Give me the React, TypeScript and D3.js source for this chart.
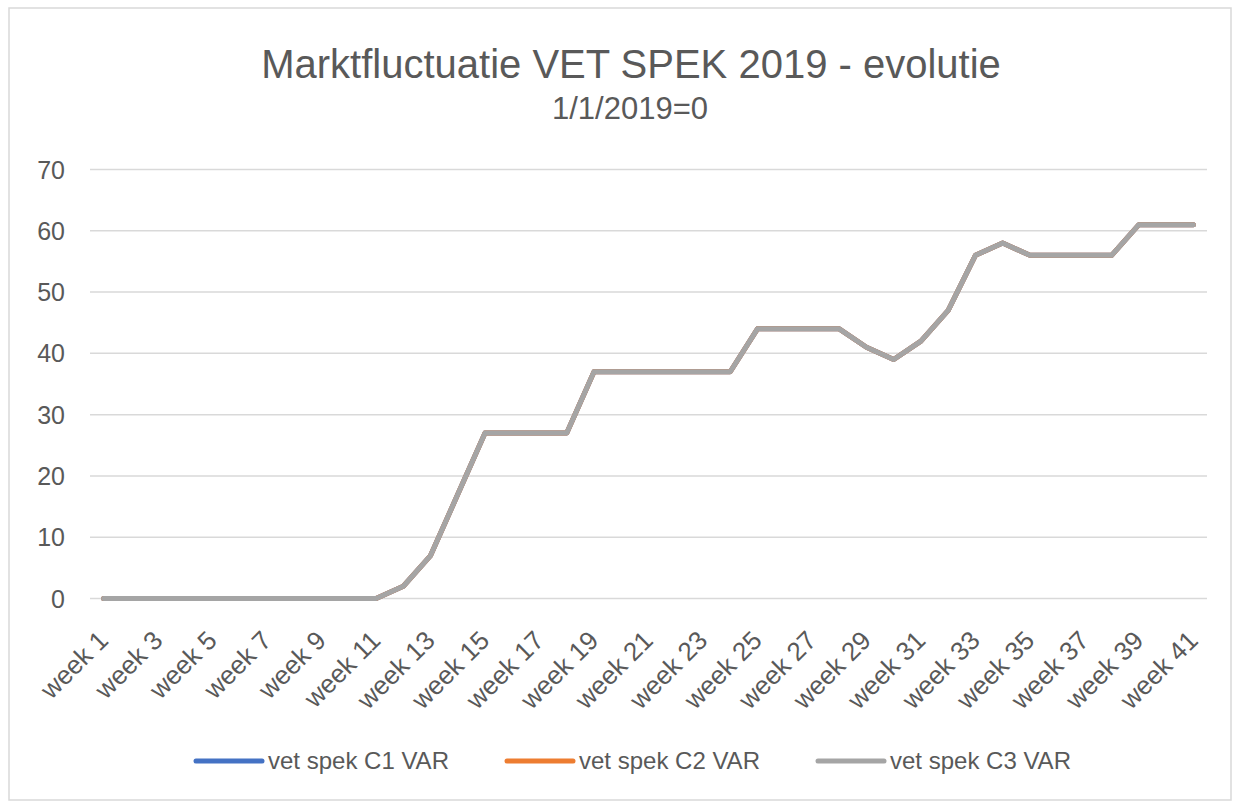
import React from "react";
import * as d3 from "d3";

const weeks: string[] = Array.from({ length: 41 }, (_, i) => `week ${i + 1}`);
const c3Values: number[] = [
  0, 0, 0, 0, 0, 0, 0, 0, 0, 0, 0, 2, 7, 17, 27, 27, 27, 27, 37, 37, 37, 37, 37, 37,
  44, 44, 44, 44, 41, 39, 42, 47, 56, 58, 56, 56, 56, 56, 61, 61, 61,
];
const c1Values: number[] = c3Values.slice();
const c2Values: number[] = c3Values.slice();
const seriesNames = ["vet spek C1 VAR", "vet spek C2 VAR", "vet spek C3 VAR"];
const seriesColors = ["#4472c4", "#ed7d31", "#a5a5a5"];
const yTicks = [0, 10, 20, 30, 40, 50, 60, 70];

const W = 1234;
const H = 802;
const FONT = "'Liberation Sans', Arial, sans-serif";

export default function App() {
  const x = d3.scaleBand<string>().domain(weeks).range([90, 1207]);
  const cx = (w: string) => (x(w) as number) + x.bandwidth() / 2;
  const y = d3.scaleLinear().domain([0, 70]).range([598.5, 169.5]);
  const line = d3
    .line<number>()
    .x((_, i) => cx(weeks[i]))
    .y((d) => y(d));
  const all = [c1Values, c2Values, c3Values];
  const legendX = [196, 507, 818];

  return (
    <svg
      width={W}
      height={H}
      style={{ position: "absolute", left: 0, top: 0, background: "#fff" }}
      fontFamily={FONT}
    >
      <rect x={9} y={8} width={1222} height={792} fill="#fff" stroke="#d9d9d9" strokeWidth={1.5} />
      <text x={631} y={78} textAnchor="middle" fontSize={40} fill="#595959">
        Marktfluctuatie VET SPEK 2019 - evolutie
      </text>
      <text x={630} y={119} textAnchor="middle" fontSize={31} fill="#595959">
        1/1/2019=0
      </text>
      {yTicks.map((t) => (
        <g key={t}>
          <line x1={90} x2={1207} y1={y(t)} y2={y(t)} stroke="#d9d9d9" strokeWidth={1.5} />
          <text x={65} y={y(t) + 9} textAnchor="end" fontSize={25} fill="#595959">
            {t}
          </text>
        </g>
      ))}
      {weeks.map((w, i) =>
        i % 2 === 0 ? (
          <text
            key={w}
            transform={`translate(${cx(w) + 6},${642}) rotate(-45)`}
            textAnchor="end"
            fontSize={26}
            fill="#595959"
          >
            {w}
          </text>
        ) : null
      )}
      {all.map((vals, s) => (
        <path
          key={s}
          d={line(vals) as string}
          fill="none"
          stroke={seriesColors[s]}
          strokeWidth={5}
          strokeLinejoin="round"
          strokeLinecap="round"
        />
      ))}
      {seriesNames.map((n, s) => (
        <g key={n}>
          <line
            x1={legendX[s]}
            x2={legendX[s] + 66}
            y1={761}
            y2={761}
            stroke={seriesColors[s]}
            strokeWidth={5}
            strokeLinecap="round"
          />
          <text x={legendX[s] + 72} y={769} fontSize={24} fill="#595959">
            {n}
          </text>
        </g>
      ))}
    </svg>
  );
}
